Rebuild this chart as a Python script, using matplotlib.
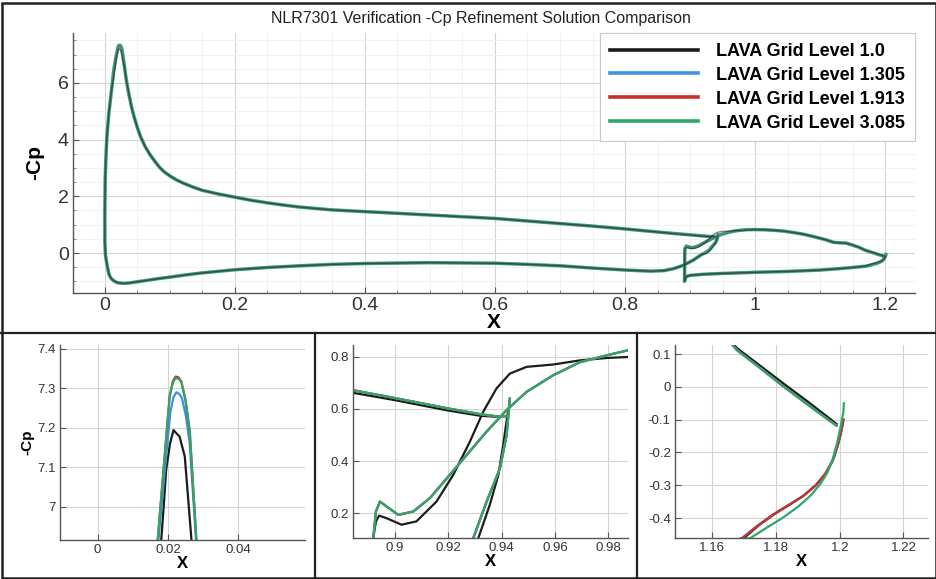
"""NLR7301 -Cp grid refinement comparison (main view + three close-ups)."""

import matplotlib
matplotlib.use("Agg")
import matplotlib.pyplot as plt
from matplotlib.lines import Line2D
from matplotlib.patches import Rectangle
from matplotlib.ticker import AutoMinorLocator, FuncFormatter, MultipleLocator

plt.rcParams["font.family"] = ["Liberation Sans", "DejaVu Sans"]

LEVELS = ["1.0", "1.305", "1.913", "3.085"]
LABELS = [f"LAVA Grid Level {lv}" for lv in LEVELS]
COLORS = {"1.0": "#1c1c1c", "1.305": "#3f92e2", "1.913": "#c8302e", "3.085": "#2ea86a"}

# ---- main element, shared parts ----
MAIN_LO_X = [0.004, 0.006, 0.008, 0.011, 0.015, 0.02, 0.028, 0.036, 0.045, 0.06, 0.08,
             0.10, 0.125, 0.15, 0.20, 0.25, 0.30, 0.35, 0.40, 0.50, 0.60, 0.65, 0.70,
             0.75, 0.80, 0.84, 0.86, 0.875, 0.89, 0.905, 0.918]
MAIN_LO_CP = [-0.5, -0.72, -0.84, -0.93, -1.0, -1.05, -1.07, -1.06, -1.03, -0.98, -0.91,
              -0.85, -0.77, -0.70, -0.59, -0.51, -0.45, -0.40, -0.37, -0.34, -0.36, -0.40, -0.45,
              -0.53, -0.60, -0.64, -0.62, -0.55, -0.43, -0.25, -0.05]
LE_UP_X = [0.001, 0.0, 0.0, 0.0005, 0.0015, 0.003, 0.006, 0.010]
LE_UP_CP = [-0.1, 0.4, 1.5, 2.6, 3.3, 4.05, 4.9, 5.7]
AFT_UP_X = [0.030, 0.033, 0.037, 0.041, 0.045, 0.050, 0.055, 0.062, 0.07, 0.078, 0.085,
            0.092, 0.10, 0.11, 0.12, 0.135, 0.15, 0.175, 0.20, 0.225, 0.25, 0.275, 0.30,
            0.35, 0.40, 0.45, 0.50, 0.55, 0.60, 0.65, 0.70, 0.75, 0.80, 0.86]
AFT_UP_CP = [6.6, 6.1, 5.6, 5.15, 4.8, 4.42, 4.1, 3.75, 3.45, 3.2, 3.0,
             2.85, 2.72, 2.58, 2.47, 2.33, 2.21, 2.08, 1.97, 1.86, 1.77, 1.69, 1.62,
             1.52, 1.46, 1.40, 1.34, 1.28, 1.22, 1.13, 1.04, 0.95, 0.85, 0.72]

# ---- suction peak, per level ----
PEAK_X_10 = [0.014, 0.0181, 0.0188, 0.0195, 0.0206, 0.0216, 0.0225, 0.0233, 0.0248, 0.0267, 0.0285]
PEAK_CP_10 = [6.3, 6.915, 7.0, 7.093, 7.16, 7.194, 7.185, 7.178, 7.127, 6.915, 6.7]
PEAK_X_1305 = [0.014, 0.0173, 0.0192, 0.0207, 0.0216, 0.0224, 0.0232, 0.0240, 0.0251, 0.0262, 0.0280]
PEAK_CP_1305 = [6.48, 6.915, 7.1, 7.24, 7.278, 7.29, 7.286, 7.275, 7.23, 7.16, 6.915]
PEAK_X_1913 = [0.014, 0.0171, 0.0190, 0.0205, 0.0214, 0.0222, 0.0230, 0.0238, 0.0250, 0.0262, 0.0281]
PEAK_CP_1913 = [6.5, 6.915, 7.12, 7.28, 7.318, 7.33, 7.328, 7.318, 7.27, 7.19, 6.915]
PEAK_X_3085 = [0.014, 0.0171, 0.0190, 0.0205, 0.0214, 0.0222, 0.0230, 0.0238, 0.0250, 0.0262, 0.0281]
PEAK_CP_3085 = [6.5, 6.915, 7.12, 7.279, 7.315, 7.326, 7.324, 7.317, 7.27, 7.195, 6.915]

# ---- main trailing edge / cove ----
COVE_X_10 = [0.925, 0.9313, 0.9356, 0.9388, 0.9406, 0.9425]
COVE_CP_10 = [-0.02, 0.104, 0.232, 0.347, 0.46, 0.60]
COVE_X_FINE = [0.925, 0.9294, 0.9344, 0.9394, 0.9419, 0.9431]
COVE_CP_FINE = [0.03, 0.104, 0.244, 0.372, 0.5, 0.64]
TE_UP_X_10 = [0.8844, 0.90, 0.92, 0.932, 0.938]
TE_UP_CP_10 = [0.662, 0.634, 0.594, 0.574, 0.57]
TE_UP_X_FINE = [0.8844, 0.90, 0.92, 0.932, 0.938, 0.9419]
TE_UP_CP_FINE = [0.672, 0.642, 0.602, 0.58, 0.572, 0.572]

# ---- flap ----
FLAP_LO_X = [0.8915, 0.8925, 0.895, 0.90, 0.92, 0.95, 1.0, 1.05, 1.10, 1.13, 1.15, 1.165]
FLAP_LO_CP = [-1.0, -0.9, -0.82, -0.79, -0.75, -0.72, -0.68, -0.65, -0.60, -0.55, -0.51, -0.475]
FRONT_X_10 = [0.8917, 0.8919, 0.8929, 0.8941, 0.8969, 0.9025, 0.9081, 0.9156, 0.9219,
              0.9281, 0.9331, 0.9381, 0.9431, 0.9494, 0.9594, 0.9694, 0.9794, 0.9875]
FRONT_CP_10 = [-0.5, 0.104, 0.168, 0.19, 0.18, 0.155, 0.168, 0.244, 0.347,
               0.474, 0.589, 0.679, 0.736, 0.762, 0.771, 0.787, 0.796, 0.80]
FRONT_X_FINE = [0.8917, 0.8919, 0.8929, 0.8944, 0.8969, 0.9013, 0.9069, 0.9131, 0.9206,
                0.9269, 0.9344, 0.9419, 0.9494, 0.9594, 0.9694, 0.9794, 0.9875]
FRONT_CP_FINE = [-0.5, 0.104, 0.206, 0.244, 0.225, 0.193, 0.206, 0.257, 0.347,
                 0.423, 0.513, 0.596, 0.666, 0.73, 0.78, 0.806, 0.826]
FLAP_UP_X = [1.0, 1.015, 1.03, 1.045, 1.06, 1.075, 1.09, 1.11, 1.12, 1.13, 1.14, 1.15, 1.16]
FLAP_UP_CP = [0.826, 0.82, 0.80, 0.77, 0.72, 0.66, 0.58, 0.46, 0.38, 0.36, 0.35, 0.28, 0.20]
TE_FLAP_UP_X = [1.1678, 1.175, 1.182, 1.19, 1.196, 1.199]
TE_FLAP_UP_CP_10 = [0.118, 0.065, 0.013, -0.045, -0.09, -0.113]
TE_FLAP_UP_CP_FINE = [0.112, 0.058, 0.004, -0.054, -0.097, -0.118]
TE_FLAP_LO_X_10 = [1.1700, 1.1745, 1.1795, 1.1845, 1.1888, 1.1927, 1.1956, 1.1979, 1.1994, 1.2004, 1.2010]
TE_FLAP_LO_CP_10 = [-0.461, -0.423, -0.388, -0.358, -0.331, -0.298, -0.263, -0.222, -0.178, -0.14, -0.11]
TE_FLAP_LO_X_1913 = [1.1694, 1.1740, 1.1790, 1.1840, 1.1885, 1.1925, 1.1955, 1.1978, 1.1993, 1.2003, 1.2012]
TE_FLAP_LO_CP_1913 = [-0.461, -0.425, -0.39, -0.36, -0.333, -0.30, -0.265, -0.225, -0.18, -0.14, -0.10]
TE_FLAP_LO_X_3085 = [1.1720, 1.1770, 1.1820, 1.1870, 1.1910, 1.1940, 1.1962, 1.1978, 1.1992,
                     1.2003, 1.2011, 1.2013]
TE_FLAP_LO_CP_3085 = [-0.461, -0.43, -0.40, -0.365, -0.33, -0.295, -0.26, -0.22, -0.17,
                      -0.12, -0.08, -0.05]

PEAK = {"1.0": (PEAK_X_10, PEAK_CP_10), "1.305": (PEAK_X_1305, PEAK_CP_1305),
        "1.913": (PEAK_X_1913, PEAK_CP_1913), "3.085": (PEAK_X_3085, PEAK_CP_3085)}
COVE = {lv: (COVE_X_10, COVE_CP_10) if lv == "1.0" else (COVE_X_FINE, COVE_CP_FINE) for lv in LEVELS}
TE_UP = {lv: (TE_UP_X_10, TE_UP_CP_10) if lv == "1.0" else (TE_UP_X_FINE, TE_UP_CP_FINE) for lv in LEVELS}
FRONT = {lv: (FRONT_X_10, FRONT_CP_10) if lv == "1.0" else (FRONT_X_FINE, FRONT_CP_FINE) for lv in LEVELS}
TE_FLAP_UP = {lv: TE_FLAP_UP_CP_10 if lv == "1.0" else TE_FLAP_UP_CP_FINE for lv in LEVELS}
TE_FLAP_LO = {"1.0": (TE_FLAP_LO_X_10, TE_FLAP_LO_CP_10),
              "1.305": (TE_FLAP_LO_X_1913, TE_FLAP_LO_CP_1913),
              "1.913": (TE_FLAP_LO_X_1913, TE_FLAP_LO_CP_1913),
              "3.085": (TE_FLAP_LO_X_3085, TE_FLAP_LO_CP_3085)}


def main_element(lv):
    lo_x = MAIN_LO_X + COVE[lv][0]
    lo_cp = MAIN_LO_CP + COVE[lv][1]
    up_x = LE_UP_X + PEAK[lv][0] + AFT_UP_X + TE_UP[lv][0]
    up_cp = LE_UP_CP + PEAK[lv][1] + AFT_UP_CP + TE_UP[lv][1]
    return lo_x[::-1] + up_x, lo_cp[::-1] + up_cp


def flap_element(lv):
    lo_x = FLAP_LO_X + TE_FLAP_LO[lv][0]
    lo_cp = FLAP_LO_CP + TE_FLAP_LO[lv][1]
    up_x = FRONT[lv][0] + FLAP_UP_X + TE_FLAP_UP_X
    up_cp = FRONT[lv][1] + FLAP_UP_CP + TE_FLAP_UP[lv]
    return lo_x[::-1] + up_x, lo_cp[::-1] + up_cp


def fmt(v, _):
    return "0" if abs(v) < 1e-9 else f"{v:g}"


def style(ax, xlim, ylim, xstep, ystep, fs, minor=False):
    ax.set_xlim(xlim)
    ax.set_ylim(ylim)
    ax.xaxis.set_major_locator(MultipleLocator(xstep))
    ax.yaxis.set_major_locator(MultipleLocator(ystep))
    ax.xaxis.set_major_formatter(FuncFormatter(fmt))
    ax.yaxis.set_major_formatter(FuncFormatter(fmt))
    for s in ("top", "right"):
        ax.spines[s].set_visible(False)
    for s in ("left", "bottom"):
        ax.spines[s].set_color("#555555")
        ax.spines[s].set_linewidth(1.0)
    ax.tick_params(direction="in", length=4, width=0.8, color="#555555",
                   labelsize=fs, labelcolor="#333333", pad=3)
    if minor:
        ax.xaxis.set_minor_locator(AutoMinorLocator(4))
        ax.yaxis.set_minor_locator(AutoMinorLocator(4))
        ax.tick_params(which="minor", direction="in", length=2, width=0.6, color="#777777")
        ax.grid(which="minor", color="#efefef", lw=0.6)
    ax.grid(which="major", color="#d4d4d4", lw=0.8)
    ax.set_axisbelow(True)


W, H = 937, 579
fig = plt.figure(figsize=(W / 100, H / 100), dpi=100)


def box(l, t, r, b):
    return [l / W, 1 - b / H, (r - l) / W, (b - t) / H]


ax_main = fig.add_axes(box(73, 33, 915, 293))
ax_le = fig.add_axes(box(60, 345, 305, 540))
ax_cove = fig.add_axes(box(353, 345, 628, 538))
ax_te = fig.add_axes(box(675, 345, 928, 538))

# main view: green underneath, thin translucent darker lines on top
for lv in ["3.085", "1.913", "1.305", "1.0"]:
    lw = 2.5 if lv == "3.085" else 1.0
    alpha = 1.0 if lv == "3.085" else 0.55
    for xs, cps in (main_element(lv), flap_element(lv)):
        ax_main.plot(xs, cps, color=COLORS[lv], lw=lw, alpha=alpha, solid_joinstyle="round")

for ax in (ax_le, ax_cove, ax_te):
    for lv in LEVELS:
        for xs, cps in (main_element(lv), flap_element(lv)):
            ax.plot(xs, cps, color=COLORS[lv], lw=1.6, solid_joinstyle="round")

style(ax_main, (-0.049, 1.246), (-1.41, 7.76), 0.2, 2, 14, minor=True)
style(ax_le, (-0.0107, 0.059), (6.915, 7.41), 0.02, 0.1, 9.5)
style(ax_cove, (0.8843, 0.9874), (0.104, 0.846), 0.02, 0.2, 9.5)
style(ax_te, (1.1483, 1.2277), (-0.461, 0.128), 0.02, 0.1, 9.5)

ax_main.set_xlabel("X", fontsize=15, fontweight="bold", labelpad=-1)
ax_main.set_ylabel("-Cp", fontsize=15, fontweight="bold", labelpad=10)
ax_le.set_ylabel("-Cp", fontsize=11, fontweight="bold", labelpad=2)
for ax in (ax_le, ax_cove, ax_te):
    ax.set_xlabel("X", fontsize=12, fontweight="bold", labelpad=0)

handles = [Line2D([], [], color=COLORS[lv], lw=2.6) for lv in LEVELS]
leg = ax_main.legend(handles, LABELS, loc="upper right", borderaxespad=0,
                     prop={"weight": "bold", "size": 13}, handlelength=4.9,
                     handletextpad=1.0, labelspacing=0.38, fancybox=False,
                     framealpha=1, edgecolor="#c8c8c8", borderpad=0.55)
leg.get_frame().set_linewidth(0.8)

fig.text(481 / W, 1 - 18 / H, "NLR7301 Verification -Cp Refinement Solution Comparison",
         ha="center", va="center", fontsize=11.5, color="#222222")

# panel borders
fig.add_artist(Rectangle((2 / W, 1 / H), 1 - 3 / W, 1 - 4 / H, transform=fig.transFigure,
                         fill=False, lw=1.8, ec="#222222"))
sep_y = 1 - 333 / H
fig.add_artist(Line2D([0, 1], [sep_y, sep_y], transform=fig.transFigure, lw=1.6, color="#222222"))
for px in (315, 637):
    fig.add_artist(Line2D([px / W, px / W], [0, sep_y], transform=fig.transFigure,
                          lw=1.6, color="#222222"))

fig.savefig("out.png", dpi=100)
